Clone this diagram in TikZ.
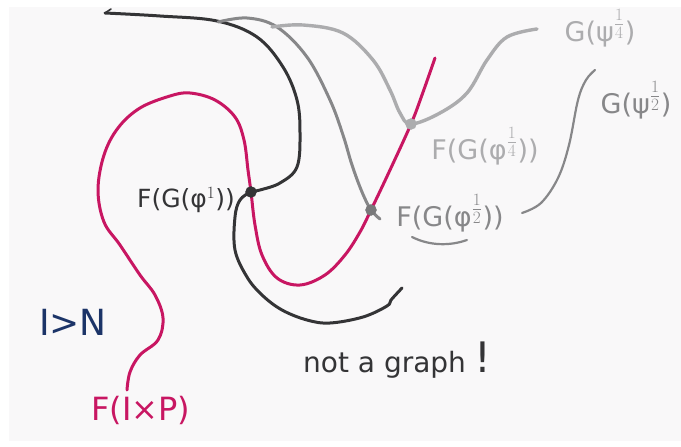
\documentclass[tikz,border=0pt]{standalone}
\usepackage{fontspec}
\setmainfont{DejaVu Sans}
\definecolor{curvepink}{RGB}{200,22,98}
\definecolor{curvedark}{RGB}{52,52,54}
\definecolor{curvemid}{RGB}{135,135,137}
\definecolor{curvelight}{RGB}{172,172,174}
\definecolor{labelblue}{RGB}{28,52,104}
\definecolor{paper}{RGB}{249,248,249}

\begin{document}
\begin{tikzpicture}[x=1pt, y=-1pt,
    stroke/.style={line width=3pt, line cap=round, line join=round},
    hand/.style={font=\fontsize{#1}{#1}\selectfont, inner sep=0pt},
    hand/.default=24]

  % Paper
  \fill[white] (0,0) rectangle (681,447);
  \fill[paper] (9,7) rectangle (681,441);
  \useasboundingbox (0,0) rectangle (681,447);

  % Crossing points
  \coordinate (pone) at (251,192);
  \coordinate (phalf) at (371,210);
  \coordinate (pquarter) at (411,124);

  % F(I x P)
  \draw[stroke, curvepink] plot[smooth, tension=0.6] coordinates {
    (127,390) (130,372) (140,355) (158,340) (163,318) (155,295) (140,275)
    (120,245) (104,222) (98,190) (104,155) (118,128) (140,108) (170,96)
    (190,93) (215,100) (235,117) (244,140) (248,170) (pone) (255,225)
    (262,255) (277,278) (300,285) (325,275) (345,255) (360,232) (phalf)
    (390,170) (pquarter) (422,95) (435,58)};

  % G(psi^1)
  \draw[stroke, curvedark] plot[smooth, tension=0.6] coordinates {
    (105,13) (160,16) (217,21) (257,37) (283,67) (297,100) (300,133)
    (297,167) (280,183) (260,190) (pone) (240,200) (235,217) (235,250)
    (247,277) (262,295) (282,310) (307,320) (330,323) (363,317) (387,306)
    (391,300) (402,288)};
  \draw[line width=1.6pt, curvedark, line cap=round] (105,13) -- (111,9);

  % G(psi^1/2)
  \draw[stroke, curvemid] plot[smooth, tension=0.6] coordinates {
    (218,22) (247,18) (277,27) (307,57) (330,100) (343,135) (352,165)
    (362,192) (phalf) (380,219)};
  \draw[line width=2.2pt, curvemid, line cap=round] plot[smooth, tension=0.6] coordinates {
    (522,213) (541,203) (558,178) (569,145) (578,100) (586,80) (595,70)};

  % G(psi^1/4)
  \draw[stroke, curvelight, line width=3.4pt] plot[smooth, tension=0.6] coordinates {
    (272,27) (303,25) (343,33) (373,60) (390,90) (400,113) (pquarter)
    (440,113) (467,93) (487,60) (507,37) (537,29)};

  % Dots
  \filldraw[curvedark] (pone) circle (5.5);
  \filldraw[curvemid!90!black] (phalf) circle (5.5);
  \filldraw[curvelight] (pquarter) circle (5.5);

  % Labels
  \node[hand=25, curvedark] (fgone) at (186,200) {F(G(φ$^{1}$))};
  \node[hand=27, curvelight] (fgquarter) at (485,146) {F(G(φ$^{\textstyle\frac{1}{4}}$))};
  \node[hand=27, curvemid] (fghalf) at (450,213) {F(G(φ$^{\textstyle\frac{1}{2}}$))};
  \node[hand=27, curvelight] (gquarter) at (600,28) {G(ψ$^{\textstyle\frac{1}{4}}$)};
  \node[hand=27, curvemid] (ghalf) at (636,100) {G(ψ$^{\textstyle\frac{1}{2}}$)};
  \node[hand=36, labelblue] (inlabel) at (73,322) {I>N};
  \node[hand=32, curvepink] (fip) at (141,410) {F(I×P)};
  \node[hand=28, curvedark, anchor=base west] (notgraph) at (303,372)
    {not a graph {\fontsize{42}{42}\selectfont !}};

  % Stroke under F(G(phi^1/2))
  \draw[line width=2.2pt, curvemid, line cap=round]
    (412,237) .. controls (430,246) and (450,246) .. (467,240);

\end{tikzpicture}
\end{document}
